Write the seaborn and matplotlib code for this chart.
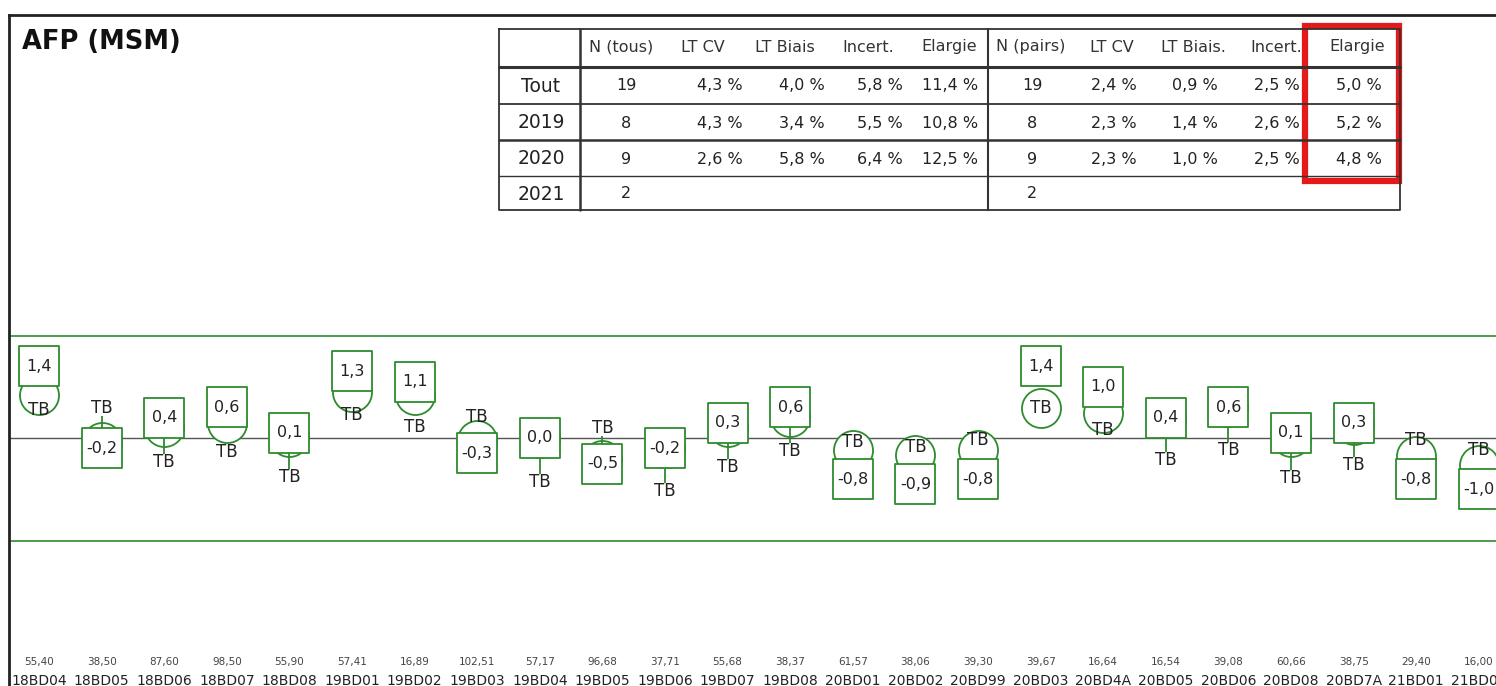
import numpy as np
import pandas as pd
import matplotlib
matplotlib.use("Agg")
import matplotlib.pyplot as plt
from matplotlib.patches import Rectangle
import seaborn as sns

# samples, left to right
sample_names = ["18BD04", "18BD05", "18BD06", "18BD07", "18BD08", "19BD01", "19BD02", "19BD03",
                "19BD04", "19BD05", "19BD06", "19BD07", "19BD08", "20BD01", "20BD02", "20BD99",
                "20BD03", "20BD4A", "20BD05", "20BD06", "20BD08", "20BD7A", "21BD01", "21BD02"]
sample_levels = [55.40, 38.50, 87.60, 98.50, 55.90, 57.41, 16.89, 102.51, 57.17, 96.68, 37.71, 55.68,
                 38.37, 61.57, 38.06, 39.30, 39.67, 16.64, 16.54, 39.08, 60.66, 38.75, 29.40, 16.00]
# value written in the box
bias = [1.4, -0.2, 0.4, 0.6, 0.1, 1.3, 1.1, -0.3, 0.0, -0.5, -0.2, 0.3,
        0.6, -0.8, -0.9, -0.8, 1.4, 1.0, 0.4, 0.6, 0.1, 0.3, -0.8, -1.0]
# centre of the TB circle
tb_mark = [0.84, -0.08, 0.21, 0.29, 0.02, 0.90, 0.84, -0.04, 0.0, -0.43, -0.2, 0.21,
           0.41, -0.23, -0.33, -0.23, 0.59, 0.49, 0.4, 0.6, 0.02, 0.25, -0.35, -0.53]
# where the TB text sits
tb_label = [0.55, 0.59, -0.47, -0.27, -0.76, 0.45, 0.21, 0.41, -0.86, 0.2, -1.03, -0.57,
            -0.25, -0.08, -0.18, -0.04, 0.59, 0.16, -0.43, -0.23, -0.78, -0.53, -0.04, -0.23]
tb_stem = [False, True, True, False, True, False, False, False, True, True, True, True,
           True, False, False, False, False, False, True, True, True, True, False, False]
limit = 2.0

# summary table
table_rows = ["Tout", "2019", "2020", "2021"]
head_all = ["N (tous)", "LT CV", "LT Biais", "Incert.", "Elargie"]
head_pairs = ["N (pairs)", "LT CV", "LT Biais.", "Incert.", "Elargie"]
n_all = [19, 8, 9, 2]
cv_all = [4.3, 4.3, 2.6, None]
biais_all = [4.0, 3.4, 5.8, None]
incert_all = [5.8, 5.5, 6.4, None]
elargie_all = [11.4, 10.8, 12.5, None]
n_pairs = [19, 8, 9, 2]
cv_pairs = [2.4, 2.3, 2.3, None]
biais_pairs = [0.9, 1.4, 1.0, None]
incert_pairs = [2.5, 2.6, 2.5, None]
elargie_pairs = [5.0, 5.2, 4.8, None]


def fr(v, nd=1):
    return f"{v:.{nd}f}".replace(".", ",")


def pct(v):
    return "" if v is None else fr(v) + " %"


sns.set_theme(style="white")
plt.rcParams['font.family'] = ['DejaVu Sans']

GREEN = "#2e8b2e"
W, H = 1496, 686
fig = plt.figure(figsize=(W / 100, H / 100), dpi=100)
ax = fig.add_axes([9 / W, 0, 1 - 9 / W, 1 - 15 / H])

n = len(sample_names)
df = pd.DataFrame({"i": np.arange(n), "bias": bias, "mark": tb_mark, "label": tb_label,
                   "stem": tb_stem})

ax.axhline(0, color="#555555", lw=1.0, zorder=1)
ax.axhline(limit, color=GREEN, lw=1.2, zorder=1)
ax.axhline(-limit, color=GREEN, lw=1.2, zorder=1)

msize = 790
sns.scatterplot(data=df, x="i", y="mark", marker="o", s=msize, color="white",
                edgecolor=GREEN, linewidth=1.3, zorder=3, legend=False, ax=ax)
for r in df[df["stem"]].itertuples():
    end = r.label - np.sign(r.label - r.bias) * 0.16
    ax.vlines(r.i, r.bias, end, color=GREEN, lw=1.3, zorder=4)
sns.scatterplot(data=df, x="i", y="bias", marker="s", s=msize, color="white",
                edgecolor=GREEN, linewidth=1.3, zorder=5, legend=False, ax=ax)

for r in df.itertuples():
    ax.text(r.i, r.bias, fr(r.bias), ha="center", va="center", fontsize=11.5,
            color="#222222", zorder=6)
    ax.text(r.i, r.label, "TB", ha="center", va="center", fontsize=12,
            color="#222222", zorder=6)

xt = ax.get_xaxis_transform()
for i, (name, lev) in enumerate(zip(sample_names, sample_levels)):
    ax.text(i, 0.036, fr(lev, 2), transform=xt, ha="center", va="center",
            fontsize=7.5, color="#444444")
    ax.text(i, 0.008, name, transform=xt, ha="center", va="center",
            fontsize=10, color="#222222")

ax.set_xlim(-30 / 62.6, (W - 39) / 62.6)
ax.set_ylim(-(H - 438) / 51.25, (438 - 15) / 51.25)
ax.set_xticks([])
ax.set_yticks([])
ax.set_xlabel("")
ax.set_ylabel("")
for side in ["right", "bottom"]:
    ax.spines[side].set_visible(False)
for side in ["left", "top"]:
    ax.spines[side].set_color("#222222")
    ax.spines[side].set_linewidth(2.0)

# overlay in pixel units for the title and the table
tab = fig.add_axes([0, 0, 1, 1], zorder=10)
tab.set_xlim(0, W)
tab.set_ylim(H, 0)
tab.axis("off")
tab.patch.set_alpha(0)

tab.text(22, 42, "AFP (MSM)", fontsize=18.5, fontweight="bold", ha="left", va="center",
         color="#111111")

x0, x1, y0, y1 = 499, 1400, 29, 210
lc = "#333333"
tab.plot([x0, x1, x1, x0, x0], [y0, y0, y1, y1, y0], color=lc, lw=1.3)
tab.plot([580, 580], [y0, y1], color=lc, lw=1.8)
tab.plot([988, 988], [y0, y1], color=lc, lw=1.5)
for yy, lw in [(67, 2.2), (104, 1.3), (140, 1.8), (176, 1.0)]:
    tab.plot([x0, x1], [yy, yy], color=lc, lw=lw)

head_x = [621, 703, 785, 868, 949, 1031, 1112, 1193, 1276, 1357]
for hx, h in zip(head_x, head_all + head_pairs):
    tab.text(hx, 47, h, ha="center", va="center", fontsize=11.5, color="#333333")

row_y = [86, 123, 159, 194]
right_all = [743, 825, 903, 978]
right_pairs = [1137, 1218, 1300, 1382]
for k, ry in enumerate(row_y):
    tab.text(541, ry, table_rows[k], ha="center", va="center", fontsize=13.5, color="#222222")
    tab.text(626, ry, str(n_all[k]), ha="center", va="center", fontsize=11.5, color="#222222")
    tab.text(1032, ry, str(n_pairs[k]), ha="center", va="center", fontsize=11.5, color="#222222")
    for rx, col in zip(right_all, [cv_all, biais_all, incert_all, elargie_all]):
        tab.text(rx, ry, pct(col[k]), ha="right", va="center", fontsize=11.5, color="#222222")
    for rx, col in zip(right_pairs, [cv_pairs, biais_pairs, incert_pairs, elargie_pairs]):
        tab.text(rx, ry, pct(col[k]), ha="right", va="center", fontsize=11.5, color="#222222")

tab.add_patch(Rectangle((1305, 26), 94, 155, fill=False, edgecolor="#e41a1a", lw=4.5))

fig.savefig("out.png", dpi=100)
